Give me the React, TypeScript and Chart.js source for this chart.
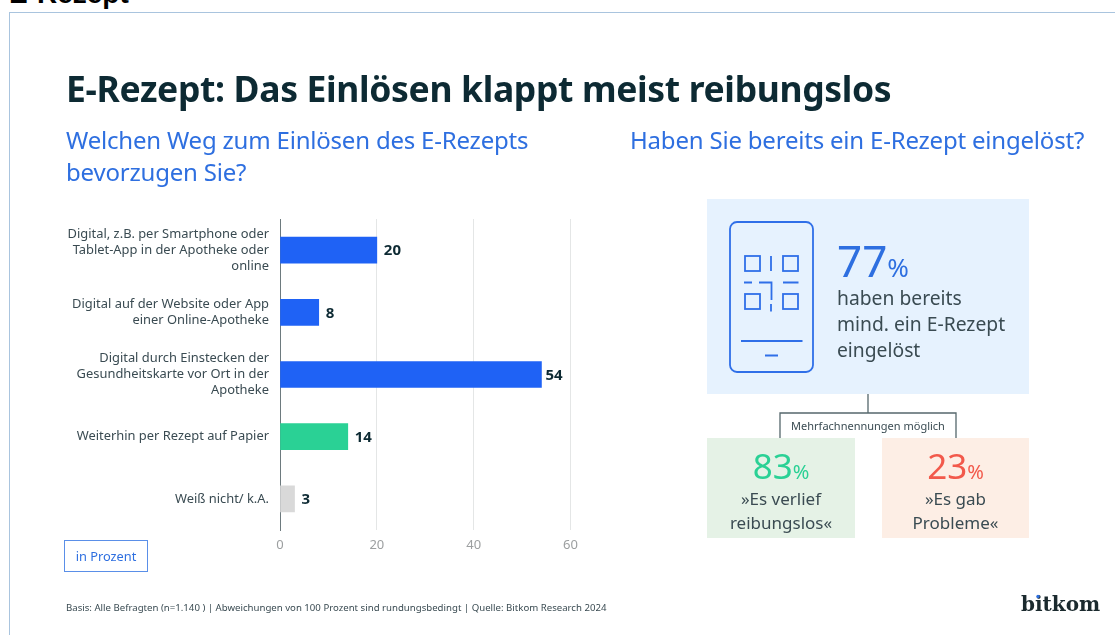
import React, { useEffect, useRef } from "react";
import { Chart, registerables } from "chart.js";

Chart.register(...registerables);

const categories: string[][] = [
  ["Digital, z.B. per Smartphone oder", "Tablet-App in der Apotheke oder", "online"],
  ["Digital auf der Website oder App", "einer Online-Apotheke"],
  ["Digital durch Einstecken der", "Gesundheitskarte vor Ort in der", "Apotheke"],
  ["Weiterhin per Rezept auf Papier"],
  ["Weiß nicht/ k.A."],
];
const values: number[] = [20, 8, 54, 14, 3];
const barColors: string[] = ["#1f62f5", "#1f62f5", "#1f62f5", "#2ad195", "#d9d9d9"];
const xTicks: number[] = [0, 20, 40, 60];

const FONT = '"Noto Sans", sans-serif';
const DARK = "#0d2a33";
const BLUE = "#2e6fe0";
const TEXT = "#3a4b52";

const valueLabels = {
  id: "valueLabels",
  afterDatasetsDraw(chart: any) {
    const { ctx } = chart;
    const meta = chart.getDatasetMeta(0);
    ctx.save();
    ctx.font = `700 15px ${FONT}`;
    ctx.fillStyle = DARK;
    ctx.textAlign = "left";
    ctx.textBaseline = "middle";
    meta.data.forEach((bar: any, i: number) => {
      ctx.fillText(String(values[i]), bar.x + (values[i] > 50 ? 4 : 7), bar.y + 1);
    });
    ctx.restore();
  },
};

function T(props: { x: number; y: number; w?: number; size: number; color: string; weight?: number; align?: any; lh?: number; ls?: number; font?: string; children: React.ReactNode }) {
  const { x, y, w, size, color, weight = 400, align = "left", lh, ls = 0, font = FONT, children } = props;
  return (
    <div
      style={{
        position: "absolute",
        left: x,
        top: y,
        width: w,
        fontFamily: font,
        fontSize: size,
        color,
        fontWeight: weight,
        textAlign: align,
        lineHeight: lh ? `${lh}px` : 1,
        letterSpacing: ls,
        whiteSpace: "pre",
      }}
    >
      {children}
    </div>
  );
}

function Box(props: { x: number; y: number; w: number; h: number; bg: string }) {
  return <div style={{ position: "absolute", left: props.x, top: props.y, width: props.w, height: props.h, background: props.bg }} />;
}

export default function App() {
  const ref = useRef<HTMLCanvasElement>(null);
  useEffect(() => {
    const chart = new Chart(ref.current as HTMLCanvasElement, {
      type: "bar",
      data: {
        labels: categories as any,
        datasets: [{ data: values, backgroundColor: barColors, barThickness: 26, borderWidth: 0 }],
      },
      plugins: [valueLabels],
      options: {
        indexAxis: "y",
        responsive: false,
        animation: false,
        layout: { padding: { left: 0, top: 219, right: 1115 - 570.5, bottom: 0 } },
        plugins: { legend: { display: false }, tooltip: { enabled: false } },
        scales: {
          x: {
            min: 0,
            max: 60,
            afterBuildTicks(axis: any) {
              axis.ticks = xTicks.map((value) => ({ value }));
            },
            grid: { color: "#e4e6e6", lineWidth: 1, drawTicks: false },
            border: { display: false },
            ticks: { color: "#9c9fa0", font: { family: FONT, size: 13 }, padding: 7, maxRotation: 0 },
            afterFit(axis: any) {
              axis.height = 635 - 530;
            },
          },
          y: {
            grid: { display: false, drawTicks: false },
            border: { display: true, color: "#6d7a7e", width: 1 },
            ticks: { color: TEXT, font: { family: FONT, size: 12.9, lineHeight: 1.24 }, padding: 11, crossAlign: "near" },
            afterFit(axis: any) {
              axis.width = 280;
            },
          },
        },
      } as any,
    });
    return () => chart.destroy();
  }, []);

  return (
    <div style={{ position: "absolute", left: 0, top: 0, width: 1115, height: 635, overflow: "hidden", background: "#fff" }}>
      <div style={{ position: "absolute", left: 9, top: 12, width: 1106, height: 623, borderLeft: "1px solid #a9c4de", borderTop: "1px solid #a9c4de" }} />
      <T x={9} y={-20} size={28} color="#000" weight={700} font='"Liberation Sans", sans-serif'>E-Rezept</T>

      <canvas ref={ref} width={1115} height={635} style={{ position: "absolute", left: 0, top: 0 }} />

      <T x={66} y={71} size={35.5} ls={-0.35} color={DARK} weight={700}>E-Rezept: Das Einlösen klappt meist reibungslos</T>
      <T x={66} y={124} size={24} ls={-0.2} color={BLUE} lh={32}>{"Welchen Weg zum Einlösen des E-Rezepts\nbevorzugen Sie?"}</T>
      <T x={630} y={124} size={24} ls={-0.2} color={BLUE} lh={32}>Haben Sie bereits ein E-Rezept eingelöst?</T>

      <Box x={707} y={199} w={322} h={195} bg="#e6f2fe" />
      <Box x={707} y={438} w={148} h={100} bg="#e5f2e6" />
      <Box x={882} y={438} w={147} h={100} bg="#fdeee5" />

      <svg width={1115} height={635} style={{ position: "absolute", left: 0, top: 0 }} fill="none">
        <g stroke="#2f6fe8" strokeWidth={1.8}>
          <rect x={730} y={222} width={83} height={150} rx={7} />
          <rect x={745} y={256} width={15} height={15} />
          <rect x={783} y={256} width={15} height={15} />
          <rect x={745} y={294} width={15} height={15} />
          <rect x={783} y={294} width={15} height={15} />
          <path d="M771 256V271M744 282.5H752M759 282.5H771.5V300M771 304V311.5M783 282.5H798.5M741 341H802.5M765 355.5H778" />
        </g>
        <path d="M868 394V413M780 438V413H956V438" stroke="#55676c" strokeWidth={1.3} />
      </svg>

      <T x={837} y={238} size={44} color={BLUE}>77<span style={{ fontSize: 26 }}>%</span></T>
      <T x={837} y={285} size={19.3} color={TEXT} lh={26}>{"haben bereits\nmind. ein E-Rezept\neingelöst"}</T>
      <T x={780} y={420} w={176} align="center" size={11} color={TEXT}>Mehrfachnennungen möglich</T>

      <T x={707} y={448} w={148} align="center" size={35} color="#2ad195">83<span style={{ fontSize: 20 }}>%</span></T>
      <T x={707} y={486.5} w={148} align="center" size={17} color={TEXT} lh={24}>{"»Es verlief\nreibungslos«"}</T>
      <T x={882} y={448} w={147} align="center" size={35} color="#f2594b">23<span style={{ fontSize: 20 }}>%</span></T>
      <T x={882} y={486.5} w={147} align="center" size={17} color={TEXT} lh={24}>{"»Es gab\nProbleme«"}</T>

      <div style={{ position: "absolute", left: 64, top: 540, width: 84, height: 32, boxSizing: "border-box", border: "1px solid #5a8fe8" }} />
      <T x={64} y={550} w={84} align="center" size={12.8} color={BLUE}>in Prozent</T>

      <T x={66} y={603} size={9.65} color={TEXT}>Basis: Alle Befragten (n=1.140 ) | Abweichungen von 100 Prozent sind rundungsbedingt | Quelle: Bitkom Research 2024</T>
      <T x={1021} y={594} size={20} color="#1b2a2e" weight={700} font='"DejaVu Serif", serif'>bitkom</T>
      <svg width={1115} height={635} style={{ position: "absolute", left: 0, top: 0 }}>
        <circle cx={1038} cy={596.5} r={1.7} fill="#2e6fe0" />
      </svg>
    </div>
  );
}
